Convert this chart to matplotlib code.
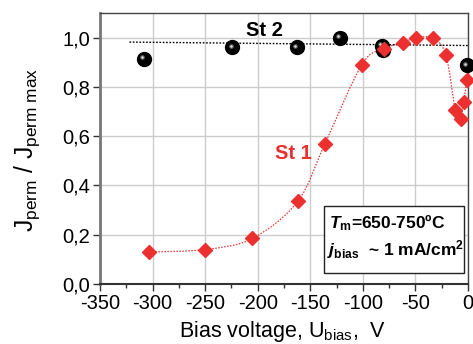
import numpy as np
import matplotlib
matplotlib.use('Agg')
import matplotlib.pyplot as plt
from matplotlib.path import Path
from matplotlib.patches import PathPatch
from matplotlib.ticker import MultipleLocator
from matplotlib.transforms import offset_copy

plt.rcParams['font.family'] = ['Liberation Sans', 'DejaVu Sans']
plt.rcParams['mathtext.fontset'] = 'custom'
plt.rcParams['mathtext.rm'] = 'Liberation Sans'
plt.rcParams['mathtext.it'] = 'Liberation Sans:italic'
plt.rcParams['mathtext.bf'] = 'Liberation Sans:bold'
plt.rcParams['mathtext.bfit'] = 'Liberation Sans:italic:bold'

# St 1 (red diamonds)
st1_x = [-303, -250, -205, -162, -136, -101, -80, -62, -49, -33, -21, -12, -7, -4, -1]
st1_y = [0.13, 0.14, 0.185, 0.335, 0.57, 0.89, 0.955, 0.98, 1.0, 0.997, 0.93, 0.705, 0.67, 0.74, 0.83]

# St 2 (black balls)
st2_x = [-308, -224, -163, -122, -82, -81, -1]
st2_y = [0.915, 0.96, 0.96, 1.0, 0.965, 0.948, 0.887]

# St 2 trend line
trend_x = [-322, 0]
trend_y = [0.982, 0.968]

x_ticks = [-350, -300, -250, -200, -150, -100, -50, 0]
y_ticks = [0.0, 0.2, 0.4, 0.6, 0.8, 1.0]

red = '#ec3030'

fig = plt.figure(figsize=(4.73, 3.44), dpi=100)
ax = fig.add_axes([0.2114, 0.1744, 0.778, 0.7878])

ax.set_xlim(-350, 0)
ax.set_ylim(0, 1.1)
ax.set_xticks(x_ticks)
ax.set_yticks(y_ticks)
ax.xaxis.set_minor_locator(MultipleLocator(25))
ax.set_xticklabels([str(v) for v in x_ticks])
ax.set_yticklabels([f'{v:.1f}'.replace('.', ',') for v in y_ticks])
ax.tick_params(axis='both', which='major', direction='out', length=5, width=1,
               labelsize=14.5, pad=2, color='#333333')
ax.tick_params(axis='x', which='minor', direction='out', length=3, width=1, color='#333333')
ax.grid(True, which='major', color='#cccccc', linewidth=1)
ax.set_axisbelow(True)
for side in ['top', 'right']:
    ax.spines[side].set_color('#444444')
    ax.spines[side].set_linewidth(1)
ax.spines['left'].set_color('#777777')
ax.spines['left'].set_linewidth(2)
ax.spines['bottom'].set_color('#333333')
ax.spines['bottom'].set_linewidth(1.5)

# smooth dotted fit through St 1 (Catmull-Rom as cubic Bezier)
px = np.array(st1_x, dtype=float)
py = np.array(st1_y, dtype=float)
verts = [(px[0], py[0])]
codes = [Path.MOVETO]
for i in range(len(px) - 1):
    p0 = np.array([px[max(i - 1, 0)], py[max(i - 1, 0)]])
    p1 = np.array([px[i], py[i]])
    p2 = np.array([px[i + 1], py[i + 1]])
    p3 = np.array([px[min(i + 2, len(px) - 1)], py[min(i + 2, len(px) - 1)]])
    c1 = p1 + (p2 - p0) / 6
    c2 = p2 - (p3 - p1) / 6
    verts += [tuple(c1), tuple(c2), tuple(p2)]
    codes += [Path.CURVE4, Path.CURVE4, Path.CURVE4]
ax.add_patch(PathPatch(Path(verts, codes), fill=False, edgecolor=red,
                       linestyle=(0, (1.2, 1.2)), linewidth=0.9, zorder=2))

ax.plot(trend_x, trend_y, color='black', linestyle=(0, (1.2, 1.2)), linewidth=1, zorder=2)

# black spheres with a small highlight
ax.plot(st2_x, st2_y, linestyle='none', marker='o', markersize=10,
        markerfacecolor='black', markeredgecolor='black', zorder=3, clip_on=False)
shine = offset_copy(ax.transData, fig=fig, x=-1.3, y=1.3, units='points')
ax.plot(st2_x, st2_y, linestyle='none', marker='o', markersize=3.5, transform=shine,
        markerfacecolor='#555555', markeredgecolor='none', zorder=4, clip_on=False)
ax.plot(st2_x, st2_y, linestyle='none', marker='o', markersize=1.8, transform=shine,
        markerfacecolor='#dddddd', markeredgecolor='none', zorder=4, clip_on=False)

ax.plot(st1_x, st1_y, linestyle='none', marker='D', markersize=7,
        markerfacecolor=red, markeredgecolor=red, zorder=5, clip_on=False)

ax.text(-211, 1.03, 'St 2', fontsize=14.5, fontweight='bold', color='black', va='center', ha='left')
ax.text(-184, 0.53, 'St 1', fontsize=14.5, fontweight='bold', color=red, va='center', ha='left')

box = plt.Rectangle((0.609, 0.04), 0.381, 0.248, transform=ax.transAxes, fill=True,
                    facecolor='white', edgecolor='#222222', linewidth=1, zorder=6)
ax.add_patch(box)
ax.text(0.623, 0.205, r'$\mathbfit{T}_{\mathbf{m}}$' + '=650-750ºC', transform=ax.transAxes,
        fontsize=12.5, fontweight='bold', va='baseline', ha='left', zorder=7)
ax.text(0.618, 0.105, r'$\mathbfit{j}_{\mathbf{bias}}$' + '  ~ 1 mA/cm$^{\mathbf{2}}$',
        transform=ax.transAxes, fontsize=12.5, fontweight='bold', va='baseline', ha='left', zorder=7)

fig.text(0.057, 0.564, r'$\mathregular{J_{perm}\ /\ J_{perm\ max}}$', rotation=90,
         fontsize=17.7, ha='center', va='center')
fig.text(0.598, 0.02, r'Bias voltage, $\mathregular{U_{bias}}$,  V', fontsize=15.5,
         ha='center', va='baseline')

fig.savefig('out.png', dpi=100)
